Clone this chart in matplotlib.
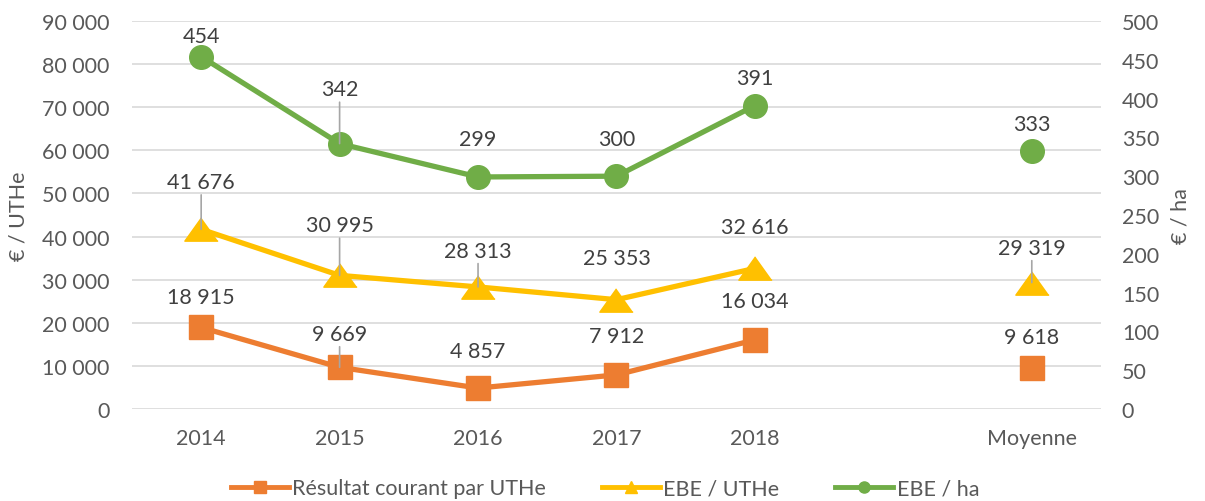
import numpy as np
import matplotlib.pyplot as plt
from matplotlib.lines import Line2D

plt.rcParams['font.family'] = ['Lato', 'DejaVu Sans']

categories = ['2014', '2015', '2016', '2017', '2018', '', 'Moyenne']
resultat_uthe = [18915, 9669, 4857, 7912, 16034, np.nan, 9618]
ebe_uthe = [41676, 30995, 28313, 25353, 32616, np.nan, 29319]
ebe_ha = [454, 342, 299, 300, 391, np.nan, 333]

# label offsets (points above marker) and leader lines, as placed in the original
res_dy = [22, 24, 27, 28, 28, 0, 22]
res_lead = [False, True, False, False, False, False, False]
ebeu_dy = [34, 36, 26, 30, 30, 0, 25]
ebeu_lead = [True, True, True, False, False, False, True]
ebeh_dy = [15, 39, 27, 27, 20, 0, 19]
ebeh_lead = [False, True, False, False, False, False, False]

orange = '#ED7D31'
yellow = '#FFC000'
green = '#70AD47'
grey_txt = '#595959'
lab_txt = '#404040'
fs = 15.5

fig = plt.figure(figsize=(12.05, 5.02), dpi=100)
ax = fig.add_axes([0.1095, 0.1833, 0.8042, 0.7729])
ax2 = ax.twinx()

x = np.arange(len(categories))

ax.plot(x, resultat_uthe, color=orange, lw=3.8, marker='s', ms=17, zorder=3)
tri = [(0, 0.7), (-1, -0.7), (1, -0.7)]
ax.plot(x, ebe_uthe, color=yellow, lw=3.8, marker=tri, ms=24, zorder=3)
ax2.plot(x, ebe_ha, color=green, lw=3.8, marker='o', ms=17, zorder=3)


def fmt(v):
    return f"{int(v):,}".replace(',', ' ')


def add_labels(a, vals, dys, leads):
    for xi, v, dy, ld in zip(x, vals, dys, leads):
        if np.isnan(v):
            continue
        kw = {}
        if ld:
            kw['arrowprops'] = dict(arrowstyle='-', color='#a6a6a6', lw=1.2,
                                    shrinkA=0, shrinkB=0)
        a.annotate(fmt(v), xy=(xi, v), xytext=(0, dy), textcoords='offset points',
                   ha='center', va='center', fontsize=fs, color=lab_txt, zorder=5, **kw)


add_labels(ax, resultat_uthe, res_dy, res_lead)
add_labels(ax, ebe_uthe, ebeu_dy, ebeu_lead)
add_labels(ax2, ebe_ha, ebeh_dy, ebeh_lead)

ax.set_xlim(-0.5, len(categories) - 0.5)
ax.set_ylim(0, 90000)
ax.set_yticks(np.arange(0, 90001, 10000))
ax.set_yticklabels([fmt(v) for v in np.arange(0, 90001, 10000)])
ax2.set_ylim(0, 500)
ax2.set_yticks(np.arange(0, 501, 50))
ax.set_xticks(x)
ax.set_xticklabels(categories)

ax.grid(axis='y', color='#d9d9d9', lw=1.2)
ax.set_axisbelow(True)
for a in (ax, ax2):
    for s in a.spines.values():
        s.set_visible(False)
    a.tick_params(length=0, labelsize=fs, colors=grey_txt)
ax.tick_params(axis='y', pad=16)
ax.tick_params(axis='x', pad=14)
ax2.tick_params(axis='y', pad=15)

ax.set_ylabel('€ / UTHe', fontsize=fs, color=grey_txt, labelpad=10)
ax2.set_ylabel('€ / ha', fontsize=fs, color=grey_txt, labelpad=8)

handles = [
    Line2D([], [], color=orange, lw=3.5, marker='s', ms=8),
    Line2D([], [], color=yellow, lw=3.5, marker='^', ms=8),
    Line2D([], [], color=green, lw=3.5, marker='o', ms=8),
]
fig.legend(handles, ['Résultat courant par UTHe', 'EBE / UTHe', 'EBE / ha'],
           loc='center', bbox_to_anchor=(0.502, 0.025), ncol=3, frameon=False,
           fontsize=fs, handlelength=2.7, handletextpad=0.15, columnspacing=2.6,
           labelcolor=grey_txt)

fig.savefig('out.png', dpi=100)
